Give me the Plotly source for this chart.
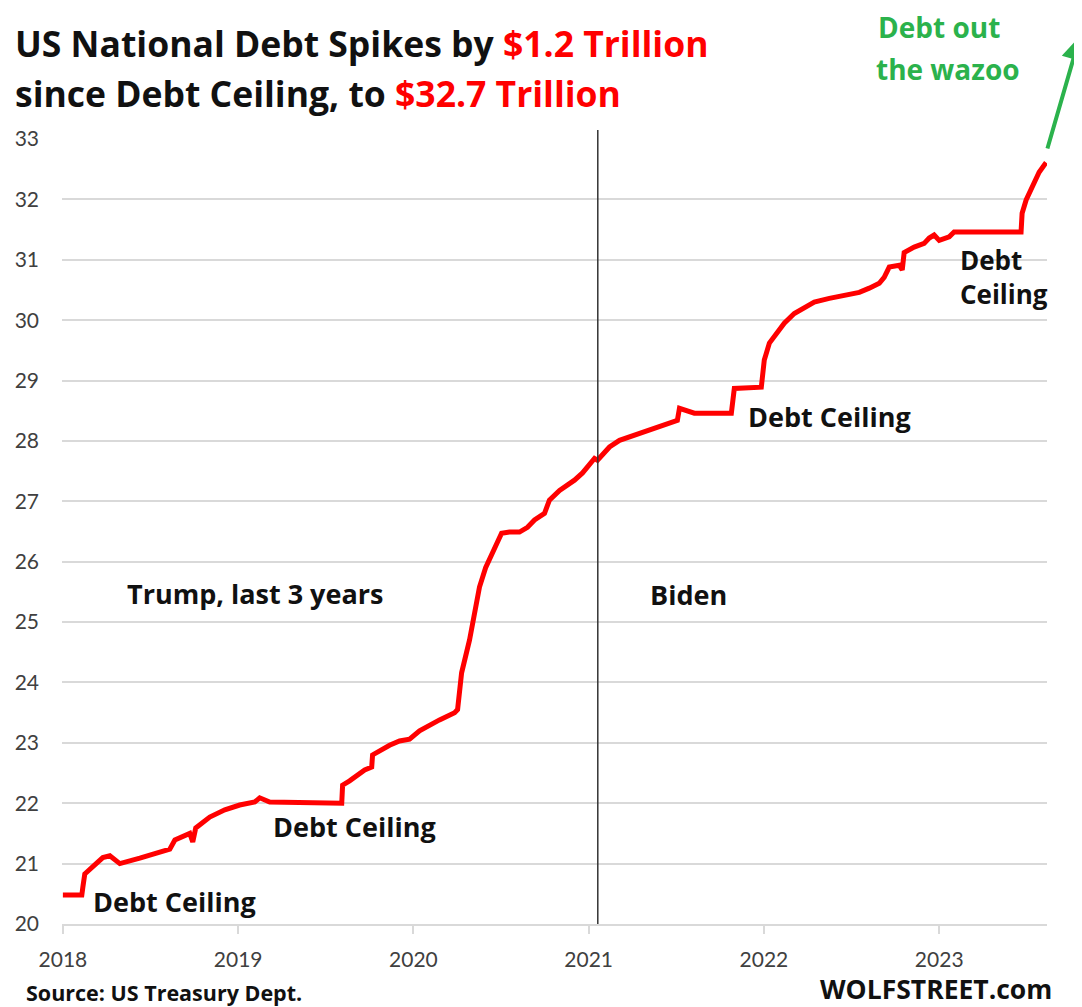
import plotly.graph_objects as go

# Decimal-year positions and US national debt (trillion $)
years = [2018.0, 2018.108, 2018.114, 2018.125, 2018.182, 2018.228, 2018.268, 2018.325,
         2018.439, 2018.553, 2018.610, 2018.639, 2018.724, 2018.741, 2018.758, 2018.838,
         2018.924, 2019.009, 2019.095, 2019.123, 2019.180, 2019.591, 2019.596, 2019.636,
         2019.722, 2019.762, 2019.767, 2019.864, 2019.921, 2019.978, 2020.035, 2020.149,
         2020.235, 2020.252, 2020.275, 2020.320, 2020.349, 2020.377, 2020.412, 2020.463,
         2020.503, 2020.548, 2020.605, 2020.651, 2020.691, 2020.748, 2020.776, 2020.834,
         2020.919, 2020.965, 2021.005, 2021.033, 2021.050, 2021.119, 2021.176, 2021.290,
         2021.404, 2021.461, 2021.506, 2021.518, 2021.575, 2021.603, 2021.814, 2021.831,
         2021.985, 2022.002, 2022.031, 2022.059, 2022.116, 2022.173, 2022.230, 2022.287,
         2022.373, 2022.458, 2022.544, 2022.601, 2022.658, 2022.686, 2022.715, 2022.772,
         2022.789, 2022.800, 2022.857, 2022.914, 2022.943, 2022.971, 2023.000, 2023.057,
         2023.085, 2023.467, 2023.473, 2023.496, 2023.542, 2023.570, 2023.610]
debt = [20.48, 20.48, 20.61, 20.83, 20.98, 21.10, 21.13, 21.00,
        21.09, 21.19, 21.24, 21.39, 21.50, 21.36, 21.59, 21.77,
        21.89, 21.97, 22.02, 22.09, 22.02, 22.00, 22.30, 22.37,
        22.55, 22.60, 22.80, 22.96, 23.03, 23.06, 23.20, 23.38,
        23.50, 23.55, 24.16, 24.70, 25.15, 25.58, 25.90, 26.24,
        26.47, 26.49, 26.49, 26.57, 26.69, 26.80, 27.02, 27.18,
        27.35, 27.47, 27.63, 27.71, 27.68, 27.90, 28.01, 28.13,
        28.23, 28.29, 28.34, 28.54, 28.50, 28.46, 28.46, 28.87,
        28.89, 29.34, 29.62, 29.72, 29.95, 30.11, 30.21, 30.30,
        30.36, 30.41, 30.46, 30.53, 30.61, 30.71, 30.88, 30.91,
        30.83, 31.12, 31.21, 31.27, 31.36, 31.41, 31.32, 31.38,
        31.46, 31.46, 31.77, 31.99, 32.27, 32.45, 32.61]

x_ticks = [2018, 2019, 2020, 2021, 2022, 2023]
x_tick_labels = ["2018", "2019", "2020", "2021", "2022", "2023"]
y_ticks = list(range(20, 34))
inauguration = 2021.052

FONT = "Open Sans"
TICK_FONT = "Lato"
INK = "#111111"

fig = go.Figure()
fig.add_trace(go.Scatter(x=years, y=debt, mode="lines",
                         line=dict(color="#ff0000", width=5), hoverinfo="skip"))

fig.add_shape(type="line", x0=inauguration, x1=inauguration, xref="x",
              y0=0, y1=1.0115, yref="paper", line=dict(color="#333333", width=1.5))

def txt(text, x, y, size=27, color=INK, xref="x", yref="y", xanchor="left", weight="bold"):
    fig.add_annotation(text=text, x=x, y=y, xref=xref, yref=yref, showarrow=False,
                       xanchor=xanchor, yanchor="middle", align="left",
                       font=dict(family=FONT, size=size, color=color, weight=weight))

txt("Debt Ceiling", 2018.160, 20.38)
txt("Debt Ceiling", 2019.185, 21.61)
txt("Trump, last 3 years", 2018.355, 25.48)
txt("Biden", 2021.340, 25.45)
txt("Debt Ceiling", 2021.900, 28.41)
txt("Debt<br>Ceiling", 2023.110, 30.71, size=26)

# titles
red = "#ff0000"
txt("US National Debt Spikes by <span style='color:%s'>$1.2 Trillion</span>" % red,
    (13 - 62) / 985, (924 - 43) / 785, size=35.5, xref="paper", yref="paper")
txt("since Debt Ceiling, to <span style='color:%s'>$32.7 Trillion</span>" % red,
    (13 - 62) / 985, (924 - 93) / 785, size=35.5, xref="paper", yref="paper")

green = "#2bb24c"
txt("Debt out", (876 - 62) / 985, (924 - 27) / 785, size=28, color=green, xref="paper", yref="paper")
txt("the wazoo", (874 - 62) / 985, (924 - 69) / 785, size=28, color=green, xref="paper", yref="paper")

fig.add_annotation(x=(1080 - 62) / 985, y=(924 - 36) / 785, xref="paper", yref="paper",
                   ax=-33, ay=114, axref="pixel", ayref="pixel", text="", showarrow=True,
                   arrowhead=2, arrowsize=1.2, arrowwidth=4, arrowcolor=green)

txt("Source: US Treasury Dept.", (24 - 62) / 985, (924 - 992) / 785, size=21.5,
    xref="paper", yref="paper")
txt("WOLFSTREET.com", (1054 - 62) / 985, (924 - 989) / 785, size=26.5,
    xref="paper", yref="paper", xanchor="right")

# the page adds an 8px body margin, so margins are reduced by 8px
fig.update_layout(
    width=1074, height=999,
    margin=dict(l=54, r=35, t=131, b=83, autoexpand=False),
    paper_bgcolor="white", plot_bgcolor="white",
    showlegend=False,
    font=dict(family=TICK_FONT, color="#404040"),
    xaxis=dict(range=[2017.995, 2023.615], tickvals=x_ticks, ticktext=x_tick_labels,
               showgrid=False, zeroline=False, showline=True, linecolor="#d9d9d9",
               linewidth=2, ticks="outside", ticklen=8, tickwidth=2, tickcolor="#d9d9d9",
               tickfont=dict(size=21, color="#404040"), ticklabelstandoff=8,
               automargin=False),
    yaxis=dict(range=[20, 33], tickvals=y_ticks, showgrid=True, gridcolor="#d9d9d9",
               gridwidth=2, zeroline=False, showline=False,
               tickfont=dict(size=21, color="#404040"), ticklabelstandoff=22,
               automargin=False),
)

fig.write_html("out.html")
